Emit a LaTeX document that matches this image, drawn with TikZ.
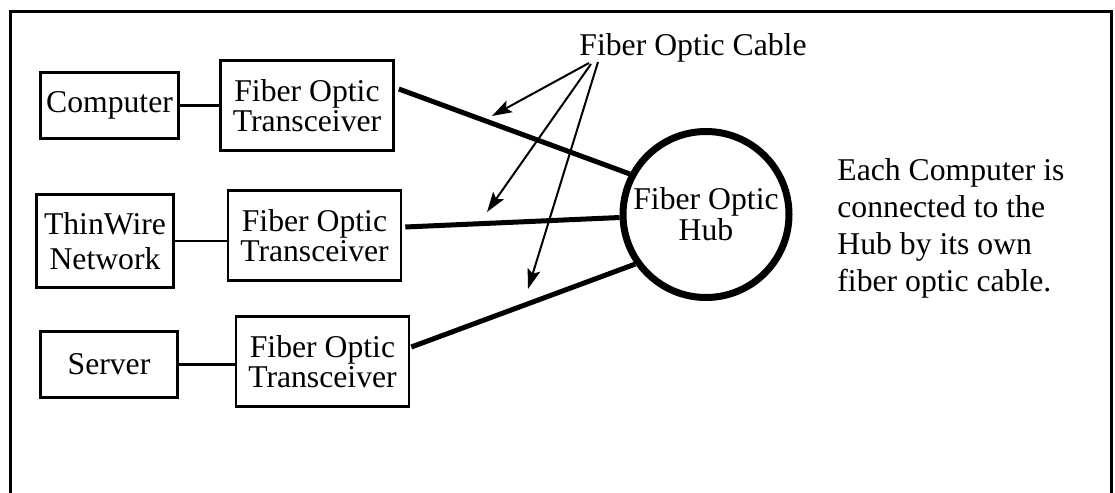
\documentclass[tikz,border=0pt]{standalone}
\usepackage{fontspec}
\setmainfont{Liberation Serif}
\usetikzlibrary{arrows.meta,calc}
\begin{document}
\begin{tikzpicture}[x=0.5pt,y=-0.5pt,
  box/.style={draw,line width=1.3pt,inner sep=0pt,align=center,font=\fontsize{15.85}{13}\selectfont},
  smallbox/.style={box,minimum width=69.2pt,minimum height=33.2pt},
  transbox/.style={box,minimum width=86.5pt,minimum height=45.2pt},
  link/.style={line width=1.1pt},
  cableline/.style={line width=2.5pt},
  pointer/.style={line width=1pt,-{Stealth[length=10pt,width=6.5pt,inset=2pt]}},
  plain/.style={inner sep=0pt,font=\fontsize{15.85}{18}\selectfont}]
\useasboundingbox (0,0) rectangle (1115,493);
\draw[line width=1.5pt] (10,495) -- (10,11) -- (1111,11) -- (1111,495);

\node[smallbox] (comp) at (109.5,105.5) {Computer};
\node[transbox] (t1) at (307,105.5) {Fiber Optic\\Transceiver};
\node[box,minimum width=68.7pt,minimum height=46.7pt,font=\fontsize{15.85}{17.5}\selectfont] (thin) at (105,241) {ThinWire\\Network};
\node[transbox] (t2) at (314.5,235.5) {Fiber Optic\\Transceiver};
\node[smallbox,minimum width=68.7pt] (serv) at (109,364.5) {Server};
\node[transbox] (t3) at (322.5,361.5) {Fiber Optic\\Transceiver};

\node[draw,circle,line width=3.5pt,minimum size=83pt,inner sep=0pt,align=center,font=\fontsize{15.85}{12.5}\selectfont] (hub) at (706,214.5) {Fiber Optic\\Hub};

\draw[link] (comp.east) -- (comp.east -| t1.west);
\draw[link] (thin.east) -- (thin.east -| t2.west);
\draw[link] (serv.east) -- (serv.east -| t3.west);

\draw[cableline] ([xshift=2pt,yshift=8.25pt]t1.east) -- (hub.152);
\draw[cableline] ([xshift=1.5pt,yshift=4.25pt]t2.east) -- (hub.182);
\draw[cableline] ([xshift=0.5pt,yshift=7.25pt]t3.east) -- (hub.215);

\node[plain,anchor=base] (cable) at (693,55) {Fiber Optic Cable};
\coordinate (s1) at (589,63);
\coordinate (s2) at (591,64);
\coordinate (s3) at (598,62);
\coordinate (e1) at (492,116);
\coordinate (e2) at (487,212);
\coordinate (e3) at (528,289);
\draw[pointer] (s1) -- (e1);
\draw[pointer] (s2) -- (e2);
\draw[pointer] (s3) -- (e3);

\node[plain,anchor=base west] (r1) at (837,180.4) {Each Computer is};
\node[plain,anchor=base west] (r2) at (837,217.3) {connected to the};
\node[plain,anchor=base west] (r3) at (837,254.2) {Hub by its own};
\node[plain,anchor=base west] (r4) at (837,291) {fiber optic cable.};
\end{tikzpicture}
\end{document}
